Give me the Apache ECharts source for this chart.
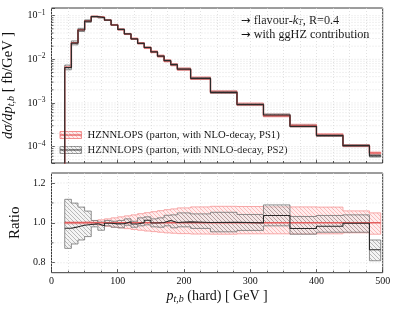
<!DOCTYPE html>
<html><head><meta charset="utf-8">
<script src="https://cdn.jsdelivr.net/npm/echarts@6/dist/echarts.min.js"></script>
<style>html,body{margin:0;padding:0;background:#fff}#c{width:399px;height:312px}</style>
</head><body><div id="c"></div>
<script>
// ---------------- data ----------------
const binEdges = [20,30,40,50,60,70,80,90,100,110,120,130,140,150,160,170,180,190,210,240,280,320,360,400,440,480,497];
// PS1 (NLO-decay) differential cross section [fb/GeV]
const ps1Values = [0.0066,0.0240,0.0475,0.0755,0.096,0.092,0.079,0.0615,0.0485,0.038,0.0296,0.0232,0.0184,0.0148,0.0118,0.0092,0.0075,0.0059,0.00365,0.00175,0.00092,0.00051,0.00030,0.000182,0.000105,0.000071];
// PS2 / PS1 ratio (central) and PS2 uncertainty band (relative to PS1)
const ratioPs2 = [0.973,0.980,0.988,0.992,0.995,0.985,0.998,0.995,0.996,1.006,0.994,1.001,1.013,0.999,1.002,1.012,1.002,1.005,1.002,1.003,1.000,1.037,0.972,0.983,0.998,0.865];
const ps2BandLo = [0.872,0.894,0.914,0.931,0.980,0.963,0.985,0.978,0.975,0.988,0.978,0.985,0.990,0.980,0.978,0.985,0.975,0.980,0.972,0.955,0.962,0.985,0.943,0.953,0.953,0.810];
const ps2BandHi = [1.118,1.099,1.079,1.059,1.012,1.004,1.012,1.008,1.012,1.020,1.008,1.025,1.030,1.020,1.025,1.038,1.040,1.050,1.045,1.053,1.042,1.090,1.032,1.037,1.040,0.914];
// PS1 uncertainty band (relative)
const ps1BandLo = [0.995,0.995,0.995,0.994,0.991,0.987,0.983,0.979,0.975,0.971,0.967,0.963,0.959,0.956,0.953,0.950,0.948,0.946,0.944,0.943,0.945,0.945,0.945,0.945,0.950,0.943];
const ps1BandHi = [1.005,1.005,1.005,1.007,1.010,1.015,1.020,1.025,1.030,1.035,1.040,1.046,1.051,1.056,1.061,1.066,1.070,1.075,1.080,1.083,1.082,1.080,1.080,1.079,1.060,1.050];
const xTickValues = [0,100,200,300,400,500];
const ratioLabelValues = [0.8,1.0,1.2];
const ratioGridValues = [0.8,0.9,1.0,1.1,1.2];
const ratioMinorValues = [0.9,1.1];
const legendLabels = ['HZNNLOPS (parton, with NLO-decay, PS1)','HZNNLOPS (parton, with NNLO-decay, PS2)'];

// ---------------- helpers ----------------
const FONT = 'Liberation Serif';
const RED = '#e35d5d', BLACK = '#2a2a2a';
function hatch(lineColor, bg, size, lw){
  const c = document.createElement('canvas'); c.width = size; c.height = size;
  const g = c.getContext('2d');
  if (bg){ g.fillStyle = bg; g.fillRect(0,0,size,size); }
  g.strokeStyle = lineColor; g.lineWidth = lw; g.beginPath();
  for (const k of [-size, 0, size]) { g.moveTo(k, 0); g.lineTo(k + size, size); }
  g.stroke(); return c;
}
const redPat = {image: hatch('rgba(240,110,110,0.5)', 'rgba(255,210,210,0.4)', 4, 0.8), repeat: 'repeat'};
const grayPat = {image: hatch('rgba(100,100,100,0.6)', 'rgba(220,220,220,0.3)', 4, 0.7), repeat: 'repeat'};

const n = ps1Values.length;
const topRedLo = ps1Values.map((v,i)=>v*ps1BandLo[i]);
const topRedHi = ps1Values.map((v,i)=>v*ps1BandHi[i]);
const topGrayLo = ps1Values.map((v,i)=>v*ps2BandLo[i]);
const topGrayHi = ps1Values.map((v,i)=>v*ps2BandHi[i]);
const ps2Values = ps1Values.map((v,i)=>v*ratioPs2[i]);
const ps1Ratio = ps1Values.map((v,i)=>v/ps1Values[i]);

function band(xi, yi, lo, hi, fill, stroke, z){
  return {type:'custom', xAxisIndex:xi, yAxisIndex:yi, z, silent:true, clip:true,
    data:[[binEdges[0], lo[0]]],
    renderItem:(p, api)=>{
      const pts=[];
      for (let i=0;i<n;i++){ pts.push(api.coord([binEdges[i],hi[i]])); pts.push(api.coord([binEdges[i+1],hi[i]])); }
      for (let i=n-1;i>=0;i--){ pts.push(api.coord([binEdges[i+1],lo[i]])); pts.push(api.coord([binEdges[i],lo[i]])); }
      return {type:'polygon', shape:{points:pts}, style:{fill, stroke, lineWidth:0.9}};
    }};
}
function stepData(vals, floor){
  const d = [];
  if (floor !== undefined) d.push([binEdges[0], floor]);
  vals.forEach((v,i)=>d.push([binEdges[i], v]));
  d.push([binEdges[n], vals[n-1]]);
  return d;
}
function stepLine(xi, yi, vals, color, w, z, floor){
  return {type:'line', xAxisIndex:xi, yAxisIndex:yi, step:'end', symbol:'none', silent:true, clip:true, z,
    data: stepData(vals, floor), lineStyle:{color, width:w}};
}
// y-axis minor ticks + horizontal grid lines
const logMinor = [];
for (let e=-5;e<=-1;e++) for (let m=1;m<=9;m++){ const v = m*Math.pow(10,e); if (v>4.2e-5 && v<0.15) logMinor.push(v); }
function yGuides(xi, yi, vals, minorSet){
  return {type:'custom', xAxisIndex:xi, yAxisIndex:yi, z:1, silent:true,
    data: vals.map(v=>[0,v]),
    renderItem:(p, api)=>{
      const v = api.value(1);
      const a = api.coord([0, v]), b = api.coord([500, v]);
      const children = [{type:'line', shape:{x1:a[0],y1:a[1],x2:b[0],y2:b[1]}, style:{stroke:'#d6d6d6', lineWidth:0.7, lineDash:[1,2]}}];
      if (minorSet(v)) children.push({type:'line', shape:{x1:a[0],y1:a[1],x2:a[0]+2,y2:a[1]}, style:{stroke:'#333', lineWidth:0.8}});
      return {type:'group', children};
    }};
}

const tickFont = {fontFamily:FONT, fontSize:10, color:'#111'};
function xAxis(gi, showLabel, extra){
  return Object.assign({type:'value', gridIndex:gi, min:0, max:500, interval:100,
    axisLine:{show:false},
    axisTick:{show:true, inside:true, length:3.5, lineStyle:{color:'#333', width:0.8}},
    minorTick:{show:true, splitNumber:4, length:2, lineStyle:{color:'#333', width:0.8}},
    splitLine:{show:true, lineStyle:{color:'#d6d6d6', width:0.7, type:[1,2]}},
    minorSplitLine:{show:true, lineStyle:{color:'#d6d6d6', width:0.7, type:[1,2]}},
    axisLabel:Object.assign({show:showLabel, margin:4, customValues:xTickValues}, tickFont)}, extra||{});
}
const arrowStyle = {fontFamily:'DejaVu Sans', fontSize:11.5, fill:'#111'};

const option = {
  animation:false,
  backgroundColor:'#fff',
  grid:[
    {left:51.5, top:8, width:331.2, height:155, show:true, borderColor:'#3a3a3a', borderWidth:1, backgroundColor:'transparent', containLabel:false, outerBoundsMode:'none'},
    {left:51.5, top:173, width:331.2, height:99.7, show:true, borderColor:'#3a3a3a', borderWidth:1, backgroundColor:'transparent', containLabel:false, outerBoundsMode:'none'}
  ],
  xAxis:[
    xAxis(0,false),
    xAxis(1,true,{name:'{i|p}{sub|t,b}{n| (hard) [ GeV ]}', nameLocation:'middle', nameGap:16,
      nameTextStyle:{fontFamily:FONT, color:'#111', rich:{
        i:{fontFamily:FONT, fontStyle:'italic', fontSize:14, color:'#111'},
        sub:{fontFamily:FONT, fontStyle:'italic', fontSize:10, color:'#111', padding:[6,0,0,0]},
        n:{fontFamily:FONT, fontSize:14, color:'#111'}}}})
  ],
  yAxis:[
    {type:'log', logBase:10, gridIndex:0, min:4.2e-5, max:0.15,
      axisLine:{show:false},
      axisTick:{show:true, inside:true, length:3.5, lineStyle:{color:'#333', width:0.8}},
      splitLine:{show:false},
      axisLabel:{margin:6, formatter:(v)=>{
        const l = Math.log10(v), e = Math.round(l);
        if (Math.abs(l-e) > 1e-6) return '';
        return '{b|10}{s|\u2212' + (-e) + '}';
      }, rich:{
        b:{fontFamily:FONT, fontSize:10, color:'#111'},
        s:{fontFamily:FONT, fontSize:7.5, color:'#111', padding:[0,0,6,0]}}},
      name:'{i|d\u03c3/dp}{sub|t,b}{n| [ fb/GeV ]}', nameLocation:'middle', nameRotate:90, nameGap:31,
      nameTextStyle:{fontFamily:FONT, color:'#111', rich:{
        i:{fontFamily:FONT, fontStyle:'italic', fontSize:14.5, color:'#111'},
        sub:{fontFamily:FONT, fontStyle:'italic', fontSize:10, color:'#111', padding:[6,0,0,0]},
        n:{fontFamily:FONT, fontSize:14.5, color:'#111'}}}},
    {type:'value', gridIndex:1, min:0.75, max:1.25,
      axisLine:{show:false},
      axisTick:{show:true, inside:true, length:3.5, customValues:ratioLabelValues, lineStyle:{color:'#333', width:0.8}},
      splitLine:{show:false},
      axisLabel:Object.assign({margin:6, customValues:ratioLabelValues, formatter:(v)=>v.toFixed(1)}, tickFont),
      name:'Ratio', nameLocation:'middle', nameRotate:90, nameGap:22,
      nameTextStyle:{fontFamily:FONT, fontSize:15, color:'#111'}}
  ],
  series:[
    yGuides(0,0,logMinor,(v)=>Math.abs(Math.log10(v)-Math.round(Math.log10(v)))>1e-6),
    yGuides(1,1,ratioGridValues,(v)=>ratioMinorValues.some(m=>Math.abs(m-v)<1e-9)),
    band(0,0,topRedLo,topRedHi,redPat,'rgba(240,120,120,0.9)',3),
    band(0,0,topGrayLo,topGrayHi,grayPat,'rgba(110,110,110,0.9)',4),
    stepLine(0,0,ps1Values,RED,1.5,5,1e-6),
    stepLine(0,0,ps2Values,BLACK,1.2,6,1e-6),
    band(1,1,ps1BandLo,ps1BandHi,redPat,'rgba(245,150,150,0.9)',3),
    band(1,1,ps2BandLo,ps2BandHi,grayPat,'rgba(110,110,110,0.85)',4),
    stepLine(1,1,ps1Ratio,RED,1.5,5),
    stepLine(1,1,ratioPs2,BLACK,1.1,6)
  ],
  graphic:[
    {type:'text', x:241, y:20.7, style:{text:'{a|\u2192} flavour-{i|k}{sub|T}, R=0.4', fontFamily:FONT, fontSize:12.2, fill:'#111', verticalAlign:'middle',
      rich:{a:arrowStyle, i:{fontFamily:FONT, fontStyle:'italic', fontSize:12.2, fill:'#111'}, sub:{fontFamily:FONT, fontStyle:'italic', fontSize:8.5, fill:'#111', padding:[5,0,0,0]}}}},
    {type:'text', x:241, y:35.3, style:{text:'{a|\u2192} with ggHZ contribution', fontFamily:FONT, fontSize:12.2, fill:'#111', verticalAlign:'middle', rich:{a:arrowStyle}}},
    {type:'rect', shape:{x:60, y:131.5, width:21.5, height:7}, style:{fill:redPat, stroke:'rgba(240,120,120,0.9)', lineWidth:0.9}},
    {type:'line', shape:{x1:60, y1:135, x2:81.5, y2:135}, style:{stroke:RED, lineWidth:1.3}},
    {type:'text', x:87.5, y:135, style:{text:legendLabels[0], fontFamily:FONT, fontSize:10.7, fill:'#111', verticalAlign:'middle'}},
    {type:'rect', shape:{x:60, y:146.5, width:21.5, height:7}, style:{fill:grayPat, stroke:'rgba(110,110,110,0.9)', lineWidth:0.9}},
    {type:'line', shape:{x1:60, y1:150, x2:81.5, y2:150}, style:{stroke:BLACK, lineWidth:1.1}},
    {type:'text', x:87.5, y:150, style:{text:legendLabels[1], fontFamily:FONT, fontSize:10.7, fill:'#111', verticalAlign:'middle'}}
  ]
};
const chart = echarts.init(document.getElementById('c'), null, {renderer:'canvas'});
chart.setOption(option);
</script></body></html>
